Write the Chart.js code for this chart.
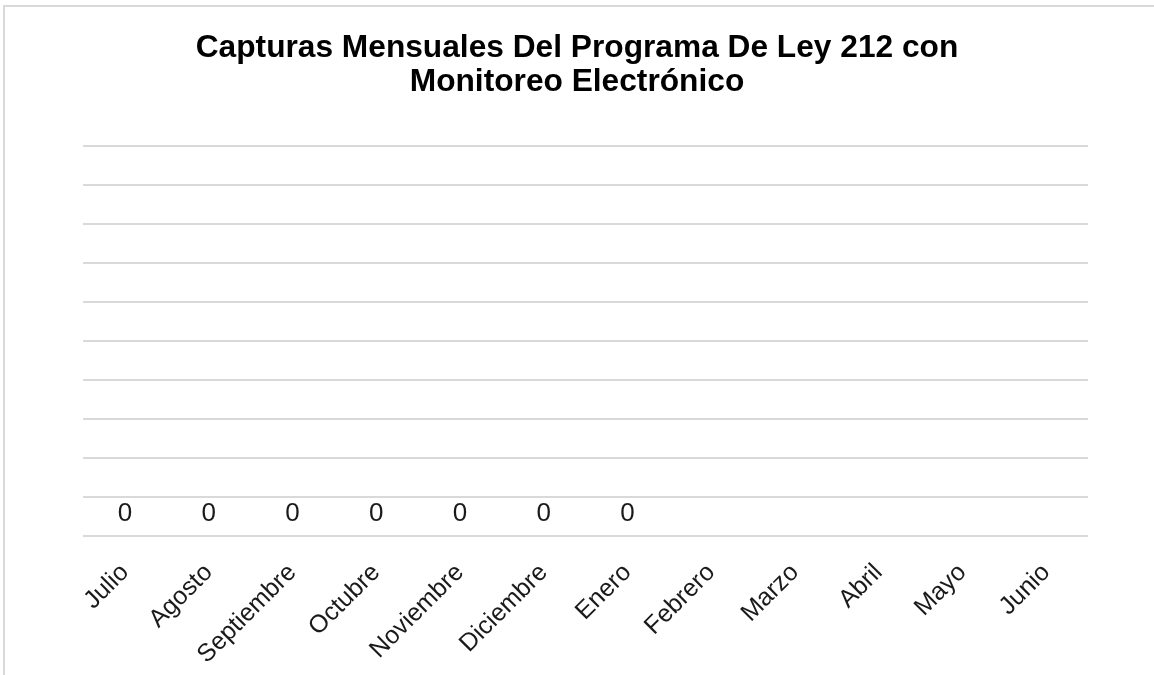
<!DOCTYPE html>
<html>
<head>
<meta charset="utf-8">
<script src="https://cdn.jsdelivr.net/npm/chart.js@4.4.0/dist/chart.umd.min.js"></script>
<style>
  html, body { margin: 0; padding: 0; background: #fff; overflow: hidden; }
  #wrap { position: relative; width: 1154px; height: 675px; }
  #frame { position: absolute; left: 3px; top: 5px; width: 1300px; height: 900px;
           border: 2px solid #d9d9d9; pointer-events: none; box-sizing: border-box; }
  canvas { position: absolute; left: 0; top: 0; }
</style>
</head>
<body>
<div id="wrap">
  <canvas id="c" width="1154" height="675"></canvas>
  <div id="frame"></div>
</div>
<script>
const titleLines = ["Capturas Mensuales Del Programa De Ley 212 con", "Monitoreo Electrónico"];
const months = ["Julio", "Agosto", "Septiembre", "Octubre", "Noviembre", "Diciembre",
                "Enero", "Febrero", "Marzo", "Abril", "Mayo", "Junio"];
const capturas = [0, 0, 0, 0, 0, 0, 0, null, null, null, null, null];
const yMin = 0, yMax = 10, yStep = 1;

const FONT = "'Liberation Sans', Arial, sans-serif";

const dataLabels = {
  id: 'dataLabels',
  afterDatasetsDraw(chart) {
    const ctx = chart.ctx;
    ctx.save();
    ctx.font = "26px " + FONT;
    ctx.fillStyle = "#1a1a1a";
    ctx.textAlign = "center";
    ctx.textBaseline = "alphabetic";
    chart.data.datasets.forEach((ds, i) => {
      const meta = chart.getDatasetMeta(i);
      meta.data.forEach((el, j) => {
        const v = ds.data[j];
        if (v === null || v === undefined) return;
        ctx.fillText(String(v), el.x, el.y - 15);
      });
    });
    ctx.restore();
  }
};

new Chart(document.getElementById('c'), {
  type: 'bar',
  data: {
    labels: months,
    datasets: [{
      label: 'Capturas',
      data: capturas,
      backgroundColor: '#4472c4',
      borderWidth: 0,
      yAxisID: 'y'
    }]
  },
  options: {
    responsive: false,
    animation: false,
    layout: { padding: 0 },
    plugins: {
      legend: { display: false },
      tooltip: { enabled: false },
      title: {
        display: true,
        text: titleLines,
        color: '#000',
        font: { family: FONT, size: 31.7, weight: 'bold', lineHeight: 1.08 },
        padding: { top: 31, bottom: 46.5 }
      }
    },
    scales: {
      x: {
        grid: { display: false, drawTicks: false },
        border: { display: false },
        ticks: {
          color: '#1a1a1a',
          font: { family: FONT, size: 25 },
          minRotation: 45, maxRotation: 45,
          autoSkip: false,
          padding: 22
        },
        afterFit(scale) { scale.height = 139; }
      },
      y: {
        position: 'left',
        min: yMin, max: yMax,
        ticks: { display: false, stepSize: yStep },
        grid: { color: '#d9d9d9', lineWidth: 2, drawTicks: false },
        border: { display: false },
        afterFit(scale) { scale.width = 83; }
      },
      yRight: {
        position: 'right',
        min: yMin, max: yMax,
        ticks: { display: false },
        grid: { display: false, drawTicks: false },
        border: { display: false },
        afterFit(scale) { scale.width = 66; }
      }
    }
  },
  plugins: [dataLabels]
});
</script>
</body>
</html>
